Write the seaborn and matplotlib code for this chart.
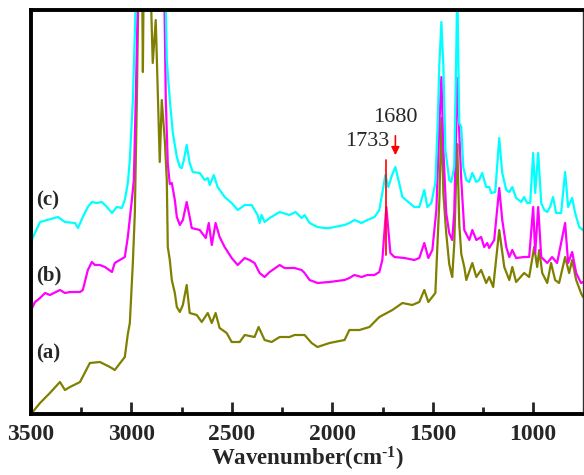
import numpy as np
import pandas as pd
import matplotlib
matplotlib.use("Agg")
import matplotlib.pyplot as plt
import seaborn as sns

# ---- data (wavenumber in cm-1, absorbance in arbitrary units) ----
wn_a = [3500, 3455, 3406, 3356, 3331, 3306, 3256, 3207, 3157, 3107, 3083, 3033, 3018, 3008, 2993, 2983,
        2973, 2963, 2948, 2943, 2938, 2909, 2894, 2879, 2859, 2849, 2834, 2824, 2819, 2809, 2799, 2784,
        2774, 2759, 2744, 2725, 2710, 2675, 2650, 2620, 2600, 2581, 2561, 2526, 2501, 2461, 2436, 2387,
        2367, 2337, 2302, 2262, 2213, 2188, 2138, 2103, 2074, 2014, 1939, 1915, 1865, 1815, 1766, 1701,
        1651, 1602, 1567, 1542, 1522, 1487, 1467, 1457, 1447, 1433, 1418, 1408, 1403, 1393, 1383, 1378,
        1368, 1358, 1343, 1333, 1303, 1283, 1259, 1234, 1219, 1199, 1169, 1144, 1119, 1104, 1085, 1045,
        1020, 995, 980, 970, 955, 930, 911, 891, 871, 841, 821, 806, 786, 762, 752]
abs_a = [0.00, 0.11, 0.21, 0.32, 0.24, 0.27, 0.32, 0.51, 0.52, 0.47, 0.44, 0.57, 0.80, 0.91, 1.51, 2.01,
         3.14, 4.60, 4.60, 3.42, 4.60, 4.60, 3.51, 3.94, 2.52, 3.14, 2.74, 2.34, 1.67, 1.54, 1.34, 1.21,
         1.07, 1.02, 1.09, 1.29, 1.01, 0.99, 0.92, 1.01, 0.91, 1.01, 0.86, 0.81, 0.72, 0.72, 0.79, 0.77,
         0.87, 0.74, 0.72, 0.77, 0.77, 0.79, 0.79, 0.71, 0.67, 0.71, 0.74, 0.84, 0.84, 0.87, 0.97, 1.04,
         1.11, 1.09, 1.12, 1.24, 1.12, 1.21, 2.14, 2.96, 2.20, 1.81, 1.50, 1.41, 1.37, 1.70, 2.40, 2.70,
         1.90, 1.60, 1.47, 1.34, 1.51, 1.37, 1.44, 1.31, 1.37, 1.27, 1.84, 1.47, 1.34, 1.47, 1.32, 1.41,
         1.37, 1.67, 1.47, 1.64, 1.41, 1.31, 1.51, 1.34, 1.31, 1.57, 1.41, 1.54, 1.34, 1.21, 1.17]

wn_b = [3500, 3480, 3455, 3430, 3406, 3356, 3331, 3306, 3256, 3242, 3217, 3197, 3182, 3157, 3132, 3097,
        3083, 3058, 3033, 3018, 2998, 2988, 2978, 2963, 2839, 2829, 2819, 2809, 2799, 2784, 2774, 2759,
        2744, 2725, 2710, 2700, 2660, 2630, 2615, 2600, 2581, 2561, 2536, 2501, 2471, 2436, 2412, 2387,
        2362, 2337, 2312, 2262, 2238, 2188, 2153, 2138, 2113, 2074, 2014, 1939, 1915, 1890, 1855, 1825,
        1790, 1766, 1751, 1741, 1731, 1721, 1711, 1691, 1641, 1592, 1567, 1542, 1522, 1502, 1482, 1467,
        1457, 1447, 1433, 1418, 1403, 1393, 1383, 1378, 1368, 1358, 1343, 1318, 1303, 1283, 1259, 1244,
        1229, 1219, 1194, 1169, 1154, 1134, 1119, 1104, 1085, 1045, 1020, 1000, 990, 975, 960, 930,
        906, 881, 841, 826, 806, 786, 762, 752]
abs_b = [1.04, 1.12, 1.16, 1.21, 1.19, 1.24, 1.21, 1.22, 1.22, 1.24, 1.44, 1.52, 1.49, 1.49, 1.47, 1.42,
         1.51, 1.54, 1.57, 1.77, 2.14, 2.34, 3.20, 4.60, 4.60, 3.14, 2.50, 2.30, 2.31, 2.14, 1.97, 1.89,
         1.94, 2.12, 1.97, 1.86, 1.84, 1.76, 1.91, 1.69, 1.91, 1.77, 1.67, 1.56, 1.49, 1.56, 1.54, 1.51,
         1.41, 1.37, 1.42, 1.49, 1.46, 1.46, 1.44, 1.41, 1.34, 1.31, 1.32, 1.34, 1.36, 1.39, 1.37, 1.39,
         1.39, 1.42, 1.54, 1.81, 2.07, 1.84, 1.61, 1.57, 1.56, 1.54, 1.56, 1.71, 1.56, 1.64, 2.04, 2.90,
         3.37, 2.64, 2.01, 1.81, 1.74, 2.01, 2.90, 3.36, 2.81, 2.34, 1.84, 1.74, 1.84, 1.74, 1.77, 1.67,
         1.71, 1.66, 1.74, 2.26, 1.94, 1.67, 1.57, 1.64, 1.56, 1.57, 1.57, 2.07, 1.61, 2.07, 1.57, 1.51,
         1.57, 1.51, 1.91, 1.51, 1.62, 1.41, 1.31, 1.32]

wn_c = [3500, 3490, 3455, 3420, 3366, 3331, 3281, 3266, 3242, 3217, 3197, 3172, 3147, 3122, 3097, 3073,
        3048, 3033, 3018, 3008, 2993, 2983, 2973, 2834, 2824, 2809, 2794, 2774, 2759, 2749, 2739, 2725,
        2710, 2695, 2660, 2635, 2620, 2610, 2590, 2571, 2536, 2501, 2471, 2436, 2402, 2372, 2362, 2352,
        2337, 2312, 2262, 2213, 2183, 2153, 2138, 2113, 2074, 2039, 2014, 1939, 1915, 1890, 1855, 1825,
        1790, 1766, 1751, 1736, 1721, 1706, 1686, 1671, 1651, 1616, 1592, 1567, 1542, 1527, 1507, 1487,
        1477, 1467, 1457, 1447, 1437, 1418, 1408, 1393, 1383, 1378, 1368, 1358, 1348, 1333, 1318, 1303,
        1283, 1269, 1254, 1234, 1219, 1209, 1189, 1169, 1154, 1134, 1119, 1104, 1085, 1060, 1045, 1030,
        1015, 1000, 990, 975, 960, 945, 930, 916, 901, 886, 861, 841, 826, 806, 791, 771, 752]
abs_c = [1.71, 1.77, 1.92, 1.94, 1.97, 1.92, 1.91, 1.86, 1.97, 2.07, 2.12, 2.11, 2.12, 2.07, 2.01, 2.07,
         2.06, 2.14, 2.31, 2.54, 3.14, 3.81, 4.60, 4.60, 3.54, 3.14, 2.81, 2.57, 2.47, 2.46, 2.54, 2.69,
         2.51, 2.42, 2.41, 2.34, 2.36, 2.29, 2.39, 2.27, 2.17, 2.11, 2.04, 2.09, 2.09, 1.99, 1.91, 1.99,
         1.92, 1.96, 2.02, 1.99, 2.02, 1.96, 1.99, 1.91, 1.87, 1.86, 1.86, 1.89, 1.91, 1.94, 1.91, 1.94,
         1.97, 2.04, 2.21, 2.39, 2.27, 2.37, 2.47, 2.34, 2.17, 2.11, 2.07, 2.07, 2.24, 2.07, 2.11, 2.31,
         2.81, 3.50, 3.92, 3.47, 2.64, 2.34, 2.32, 2.47, 3.60, 4.30, 2.91, 2.87, 2.47, 2.34, 2.32, 2.41,
         2.32, 2.34, 2.41, 2.27, 2.27, 2.21, 2.22, 2.76, 2.41, 2.24, 2.22, 2.27, 2.16, 2.12, 2.17, 2.11,
         2.11, 2.61, 2.21, 2.61, 2.11, 2.04, 2.02, 2.07, 2.17, 2.01, 2.01, 2.42, 2.07, 2.16, 2.01, 1.87, 1.84]

samples = ["(a)", "(b)", "(c)"]
colors = ["#808000", "#FF00FF", "#00FFFF"]
xticks = [3500, 3000, 2500, 2000, 1500, 1000]
minor_xticks = [3250, 2750, 2250, 1750, 1250]
label_y = [0.61, 1.39, 2.14]
peak_1733 = 1731
peak_1680 = 1686

df = pd.concat([
    pd.DataFrame({"wn": wn_a, "abs": abs_a, "sample": "(a)"}),
    pd.DataFrame({"wn": wn_b, "abs": abs_b, "sample": "(b)"}),
    pd.DataFrame({"wn": wn_c, "abs": abs_c, "sample": "(c)"}),
])

sns.set_style("ticks")
plt.rcParams["font.family"] = ["Liberation Serif", "DejaVu Serif"]
plt.rcParams["mathtext.fontset"] = "custom"
plt.rcParams["mathtext.rm"] = "Liberation Serif:bold"
plt.rcParams["mathtext.bf"] = "Liberation Serif:bold"
plt.rcParams["mathtext.default"] = "bf"

fig = plt.figure(figsize=(5.84, 4.75), dpi=100)
ax = fig.add_axes([31 / 584, 1 - 414 / 475, 552 / 584, 404 / 475])

sns.lineplot(data=df, x="wn", y="abs", hue="sample", palette=dict(zip(samples, colors)),
             estimator=None, sort=False, linewidth=1.6, legend=False, ax=ax)

ax.set_xlim(3500, 752)
ax.set_ylim(0, 4.04)
ax.set_yticks([])
ax.set_ylabel("")
ax.set_xticks(xticks)
ax.set_xticks(minor_xticks, minor=True)
ax.set_xticklabels([str(t) for t in xticks], fontsize=17, fontweight="bold")
ax.tick_params(axis="x", which="major", direction="in", length=9, width=2, pad=7)
ax.tick_params(axis="x", which="minor", direction="in", length=5, width=2)
ax.set_xlabel("Wavenumber(cm$^{\\text{-1}}$)", fontsize=16.5, fontweight="bold", labelpad=0)

for side in ["left", "top", "bottom"]:
    ax.spines[side].set_linewidth(2.8)
    ax.spines[side].set_color("black")
ax.spines["right"].set_linewidth(1.0)
ax.spines["right"].set_color("#333333")

for s, yv in zip(samples, label_y):
    ax.text(3475, yv, s, fontsize=15, fontweight="bold", ha="left", va="center")

# 1733 marker line
ax.plot([peak_1733, peak_1733], [2.54, 1.59], color="red", linewidth=1.2)
ax.text(1714, 2.72, "1733", fontsize=16, ha="right", va="center")
# 1680 arrow
ax.annotate("", xy=(peak_1680, 2.56), xytext=(peak_1680, 2.81),
            arrowprops=dict(arrowstyle="-|>", color="red", lw=1.2, mutation_scale=12))
ax.text(peak_1680, 2.97, "1680", fontsize=16, ha="center", va="center")

fig.savefig("out.png", dpi=100)
